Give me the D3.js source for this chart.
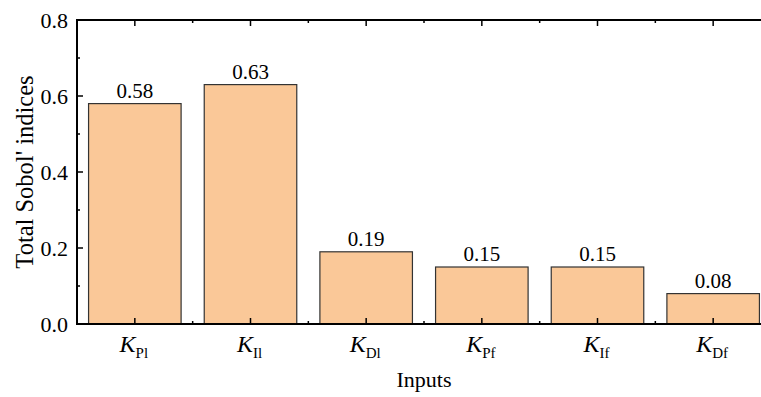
<!DOCTYPE html>
<html lang="en">
<head>
    <meta charset="utf-8">
    <title>Total Sobol' indices</title>
    <script src="https://d3js.org/d3.v7.min.js"></script>
    <style>
        body { margin: 0; background: #fff; }
        svg text { font-family: "Liberation Serif", "Times New Roman", serif; fill: #000; }
    </style>
</head>
<body>
    <div id="chart"></div>
    <script>
        // data
        const inputs = ["Pl", "Il", "Dl", "Pf", "If", "Df"];
        const sobolTotal = [0.58, 0.63, 0.19, 0.15, 0.15, 0.08];
        const yTicks = [0.0, 0.2, 0.4, 0.6, 0.8];

        const W = 761, H = 397;
        // plot frame runs past the right edge of the window, as in the reference
        const margin = { top: 20, left: 77 },
            plotW = 694,
            plotH = 304;

        const svg = d3.select("#chart").append("svg")
            .attr("width", W)
            .attr("height", H);

        const g = svg.append("g")
            .attr("transform", `translate(${margin.left},${margin.top})`);

        const x = d3.scaleBand()
            .domain(inputs)
            .range([0, plotW])
            .paddingInner(0.2)
            .paddingOuter(0.1);

        const y = d3.scaleLinear().domain([0, 0.8]).range([plotH, 0]);

        // bars
        g.selectAll(".bar")
            .data(inputs)
            .join("rect")
            .attr("class", "bar")
            .attr("x", d => x(d))
            .attr("y", (d, i) => y(sobolTotal[i]))
            .attr("width", x.bandwidth())
            .attr("height", (d, i) => plotH - y(sobolTotal[i]))
            .attr("fill", "#fac898")
            .attr("stroke", "#333")
            .attr("stroke-width", 1.2);

        // value labels
        g.selectAll(".val")
            .data(inputs)
            .join("text")
            .attr("class", "val")
            .attr("x", d => x(d) + x.bandwidth() / 2)
            .attr("y", (d, i) => y(sobolTotal[i]) - 6)
            .attr("text-anchor", "middle")
            .attr("font-size", 21)
            .text((d, i) => sobolTotal[i].toFixed(2));

        // axis ticks (inward)
        const step = x.step();
        const centers = inputs.map(d => x(d) + x.bandwidth() / 2);
        const minorX = d3.range(0, inputs.length + 1).map(i => i * step);
        const minorY = [0.1, 0.3, 0.5, 0.7];

        const tickG = g.append("g").attr("stroke", "#000").attr("stroke-width", 1.5);
        // bottom
        tickG.selectAll(".bx").data(centers).join("line")
            .attr("x1", d => d).attr("x2", d => d).attr("y1", plotH).attr("y2", plotH - 6);
        tickG.selectAll(".bxm").data(minorX).join("line")
            .attr("x1", d => d).attr("x2", d => d).attr("y1", plotH).attr("y2", plotH - 3);
        // top
        tickG.selectAll(".tx").data(centers).join("line")
            .attr("x1", d => d).attr("x2", d => d).attr("y1", 0).attr("y2", 6);
        tickG.selectAll(".txm").data(minorX).join("line")
            .attr("x1", d => d).attr("x2", d => d).attr("y1", 0).attr("y2", 3);
        // left
        tickG.selectAll(".ly").data(yTicks).join("line")
            .attr("x1", 0).attr("x2", 6).attr("y1", d => y(d)).attr("y2", d => y(d));
        tickG.selectAll(".lym").data(minorY).join("line")
            .attr("x1", 0).attr("x2", 3).attr("y1", d => y(d)).attr("y2", d => y(d));

        // frame
        g.append("rect")
            .attr("x", 0).attr("y", 0)
            .attr("width", plotW).attr("height", plotH)
            .attr("fill", "none")
            .attr("stroke", "#000")
            .attr("stroke-width", 2);

        // y tick labels
        g.selectAll(".ylab").data(yTicks).join("text")
            .attr("class", "ylab")
            .attr("x", -9)
            .attr("y", d => y(d))
            .attr("dy", "0.35em")
            .attr("text-anchor", "end")
            .attr("font-size", 22)
            .text(d => d.toFixed(1));

        // x category labels: italic K with upright subscript
        const xl = g.selectAll(".xlab").data(inputs).join("text")
            .attr("class", "xlab")
            .attr("x", d => x(d) + x.bandwidth() / 2 - 1)
            .attr("y", plotH + 28)
            .attr("text-anchor", "middle")
            .attr("font-size", 24);
        xl.append("tspan").attr("font-style", "italic").text("K");
        xl.append("tspan").attr("font-size", 15).attr("dy", 6).text(d => d);

        // axis titles
        g.append("text")
            .attr("x", plotW / 2)
            .attr("y", plotH + 63)
            .attr("text-anchor", "middle")
            .attr("font-size", 22)
            .text("Inputs");

        g.append("text")
            .attr("transform", `translate(${-44},${plotH / 2}) rotate(-90)`)
            .attr("text-anchor", "middle")
            .attr("font-size", 24.5)
            .text("Total Sobol' indices");
    </script>
</body>
</html>
